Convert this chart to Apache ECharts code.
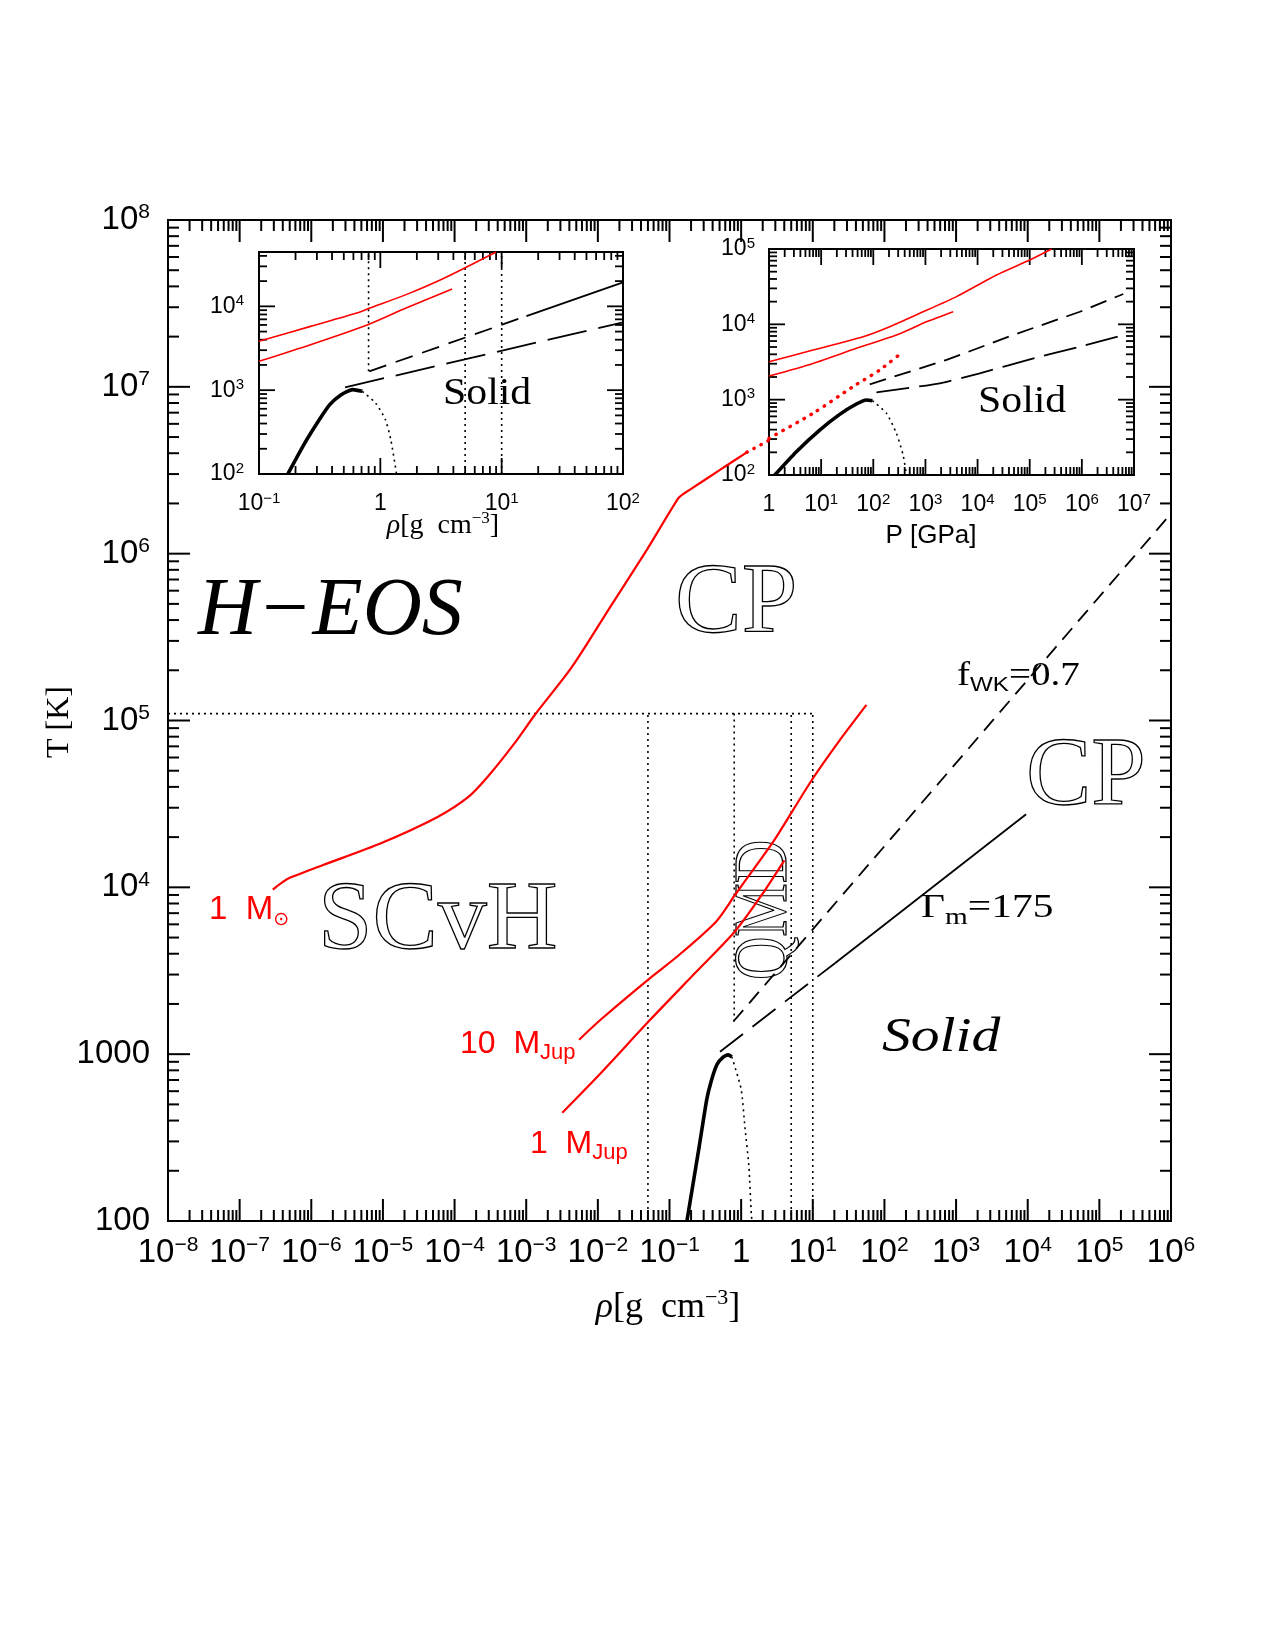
<!DOCTYPE html>
<html>
<head>
<meta charset="utf-8">
<script src="https://cdn.jsdelivr.net/npm/echarts@6/dist/echarts.min.js"></script>
<style>
  html, body { margin: 0; padding: 0; background: #fff; }
  #chart { width: 1275px; height: 1650px; }
</style>
</head>
<body>
<div id="chart"></div>
<script>
// ---------- main panel: T vs rho ----------
const sunRho = [2.9e-7, 3.8e-7, 4.8e-7, 1.46e-6, 9.2e-6, 5.8e-5, 1.56e-4, 2.88e-4, 6.8e-4, 1.34e-3, 4.3e-3, 1.47e-2, 4.8e-2, 0.133, 0.16, 0.193, 0.507, 1.2];
const sunT   = [9.7e3, 1.06e4, 1.13e4, 1.36e4, 1.83e4, 2.64e4, 3.48e4, 4.58e4, 7.26e4, 1.09e5, 2.08e5, 4.75e5, 1.05e6, 2.15e6, 2.3e6, 2.42e6, 3.18e6, 4.05e6];
const sunDotRho = [1.2, 2.53];
const sunDotT   = [4.05e6, 4.82e6];

const jup10Rho = [5.47e-3, 1.13e-2, 5.25e-2, 0.132, 0.45, 0.83, 1.54, 2.84, 9.7, 22.9, 56.1];
const jup10T   = [1.22e3, 1.63e3, 2.84e3, 3.89e3, 6.25e3, 9.06e3, 1.31e4, 1.89e4, 4.4e4, 7.45e4, 1.24e5];
const jup1Rho  = [3.19e-3, 1.13e-2, 5.25e-2, 0.244, 0.83, 1.96, 4.01];
const jup1T    = [446, 780, 1.59e3, 3.16e3, 5.48e3, 9.06e3, 1.45e4];

const meltRho    = [0.175, 0.26, 0.33, 0.38, 0.46, 0.56, 0.66, 0.74];
const meltT      = [100, 280, 530, 684, 867, 960, 990, 965];
const meltDotRho = [0.74, 1.0, 1.13, 1.28, 1.39, 1.42];
const meltDotT   = [965, 617, 364, 215, 108, 100];

const fwkRho = [0.78, 1e6];
const fwkT   = [1570, 1.74e6];
const gamDashRho = [0.507, 20.4];
const gamDashT   = [1035, 3510];
const gamRho = [20.4, 9.5e3];
const gamT   = [3510, 2.74e4];

const boundRho  = [0.05, 0.8, 5, 10];
const boundTlow = [100, 1570, 100, 100];
const boundTtop = 1.1e5;
const hLineRho = [1e-8, 10];

// ---------- inset 1: T vs rho ----------
const in1RedARho = [0.1, 0.266, 0.637, 0.82, 1.63, 3.38, 9.0];
const in1RedAT   = [3.83e3, 5.77e3, 8.32e3, 9.55e3, 1.38e4, 2.18e4, 4.45e4];
const in1RedBRho = [0.1, 0.266, 0.79, 1.63, 3.91];
const in1RedBT   = [2.21e3, 3.49e3, 6.04e3, 9.55e3, 1.61e4];
const in1MeltRho = [0.173, 0.176, 0.23, 0.308, 0.383, 0.476, 0.592, 0.71];
const in1MeltT   = [100, 105, 214, 425, 671, 883, 1014, 968];
const in1MeltDotRho = [0.71, 0.914, 1.1, 1.22, 1.36];
const in1MeltDotT   = [968, 703, 445, 257, 100];
const in1FwkDashRho = [0.81, 16];
const in1FwkDashT   = [1680, 7.65e3];
const in1FwkRho = [16, 100];
const in1FwkT   = [7.65e3, 1.93e4];
const in1GamRho = [0.512, 100];
const in1GamT   = [1081, 6.44e3];
const in1BoundRho  = [0.8, 5, 10];
const in1BoundTlow = [1680, 100, 100];
const in1Tmax = 44500;

// ---------- inset 2: T vs P ----------
const in2RedAP = [1, 7.0, 63.7, 207, 780, 3.94e3, 2.31e4, 1e5, 2.63e5];
const in2RedAT = [3.19e3, 4.56e3, 6.85e3, 9.31e3, 1.4e4, 2.33e4, 4.52e4, 7.14e4, 1e5];
const in2RedBP = [1, 7.0, 47.4, 278, 1.05e3, 3.4e3];
const in2RedBT = [2.06e3, 3.03e3, 4.8e3, 7.21e3, 1.08e4, 1.47e4];
const in2RedDotP = [1, 7.0, 40.9, 133, 373];
const in2RedDotT = [307, 659, 1.49e3, 2.48e3, 4.34e3];
const in2MeltP = [1.29, 3.35, 9.38, 22.7, 47.4, 73.8, 96.2];
const in2MeltT = [100, 204, 395, 638, 875, 991, 971];
const in2MeltDotP = [96.2, 179, 278, 373, 433];
const in2MeltDotT = [971, 659, 357, 184, 100];
const in2FwkP = [85.5, 2.54e3, 4.82e4, 9.18e5, 6.24e6];
const in2FwkT = [1.6e3, 3.37e3, 7.21e3, 1.47e4, 2.53e4];
const in2GamP = [115, 1.89e3, 1.1e4, 1.01e5, 9.18e5, 6.24e6];
const in2GamT = [1.25e3, 1.65e3, 2.24e3, 3.43e3, 5.06e3, 7.21e3];

// ---------- tick labels ----------
const mainXLabels = ['10{s|−8}', '10{s|−7}', '10{s|−6}', '10{s|−5}', '10{s|−4}', '10{s|−3}', '10{s|−2}', '10{s|−1}', '1', '10{s|1}', '10{s|2}', '10{s|3}', '10{s|4}', '10{s|5}', '10{s|6}'];
const mainYLabels = ['100', '1000', '10{s|4}', '10{s|5}', '10{s|6}', '10{s|7}', '10{s|8}'];
const in1XLabels = ['10{s|−1}', '1', '10{s|1}', '10{s|2}'];
const in1YLabels = ['10{s|2}', '10{s|3}', '10{s|4}'];
const in2XLabels = ['1', '10{s|1}', '10{s|2}', '10{s|3}', '10{s|4}', '10{s|5}', '10{s|6}', '10{s|7}'];
const in2YLabels = ['10{s|2}', '10{s|3}', '10{s|4}', '10{s|5}'];

const SERIF = '"Liberation Serif", "DejaVu Serif", serif';
const SANS = '"Liberation Sans", "DejaVu Sans", sans-serif';
const RED = '#ff0000';
const BIG_FS = 33, BIG_LH = 36, BIG_SUP = 21, BIG_SUP_LH = 22;

function pairs(xs, ys) { return xs.map((x, i) => [x, ys[i]]); }

function line(xs, ys, g, color, width, type, cap, smooth) {
  return {
    type: 'line', xAxisIndex: g, yAxisIndex: g, data: pairs(xs, ys),
    showSymbol: false, symbol: 'none', silent: true, smooth: smooth || false,
    lineStyle: { color: color, width: width, type: type || 'solid', cap: cap || 'butt' }
  };
}

function labelFmt(labels, minExp) {
  return function (v) {
    const e = Math.log10(v);
    const r = Math.round(e);
    if (Math.abs(e - r) > 1e-6) return '';
    return labels[r - minExp] || '';
  };
}

function logTicks(min, max) {
  const out = [];
  for (let e = Math.floor(Math.log10(min)); e <= Math.ceil(Math.log10(max)); e++) {
    for (let m = 1; m <= 9; m++) {
      const v = m * Math.pow(10, e);
      if (v >= min * 0.999 && v <= max * 1.001) out.push([v, m === 1 ? 1 : 0]);
    }
  }
  return out;
}

function tickSeries(g, xmin, xmax, ymin, ymax, lenMajor, lenMinor, w) {
  const data = logTicks(xmin, xmax).map(t => [t[0], ymin, 0, t[1]])
    .concat(logTicks(ymin, ymax).map(t => [xmin, t[0], 1, t[1]]));
  return {
    type: 'custom', xAxisIndex: g, yAxisIndex: g, silent: true, clip: false,
    encode: { x: 0, y: 1 }, data: data,
    renderItem: function (params, api) {
      const cs = params.coordSys;
      const len = api.value(3) === 1 ? lenMajor : lenMinor;
      const style = { stroke: '#000', lineWidth: w };
      const p = api.coord([api.value(0), api.value(1)]);
      if (api.value(2) === 0) {
        return { type: 'group', children: [
          { type: 'line', shape: { x1: p[0], y1: cs.y + cs.height, x2: p[0], y2: cs.y + cs.height - len }, style: style },
          { type: 'line', shape: { x1: p[0], y1: cs.y, x2: p[0], y2: cs.y + len }, style: style }
        ] };
      }
      return { type: 'group', children: [
        { type: 'line', shape: { x1: cs.x, y1: p[1], x2: cs.x + len, y2: p[1] }, style: style },
        { type: 'line', shape: { x1: cs.x + cs.width, y1: p[1], x2: cs.x + cs.width - len, y2: p[1] }, style: style }
      ] };
    }
  };
}

// main x tick labels drawn at each decade through the axis scale
function xLabelSeries(labels, minExp, ymin, margin) {
  return {
    type: 'custom', xAxisIndex: 0, yAxisIndex: 0, silent: true, clip: false,
    encode: { x: 0, y: 1 },
    data: labels.map((l, i) => [Math.pow(10, i + minExp), ymin, i]),
    renderItem: function (params, api) {
      const cs = params.coordSys;
      const p = api.coord([api.value(0), api.value(1)]);
      return {
        type: 'text', x: p[0], y: cs.y + cs.height + margin,
        style: {
          text: labels[api.value(2)], fill: '#000',
          fontFamily: SANS, fontSize: BIG_FS, lineHeight: BIG_LH,
          align: 'center', textAlign: 'center', verticalAlign: 'top', textVerticalAlign: 'top',
          rich: { s: { fontFamily: SANS, fontSize: BIG_SUP, lineHeight: BIG_SUP_LH, verticalAlign: 'top', fill: '#000' } }
        }
      };
    }
  };
}

function logAxis(g, min, max, split, labels, minExp, big, margin, hideLabels) {
  return {
    type: 'log', logBase: 10, gridIndex: g, min: min, max: max, splitNumber: split,
    axisLine: { show: false }, axisTick: { show: false }, splitLine: { show: false },
    axisLabel: {
      show: !hideLabels,
      margin: margin, color: '#000', fontFamily: SANS, fontSize: big ? BIG_FS : 23, lineHeight: big ? BIG_LH : 26,
      formatter: labelFmt(labels, minExp),
      rich: { s: { fontFamily: SANS, fontSize: big ? BIG_SUP : 15, lineHeight: big ? BIG_SUP_LH : 16, verticalAlign: 'top', color: '#000' } }
    }
  };
}

const series = [];
// dotted boundaries
boundRho.forEach((r, i) => series.push(line([r, r], [boundTlow[i], boundTtop], 0, '#000', 1.6, [2, 4])));
series.push(line(hLineRho, [boundTtop, boundTtop], 0, '#000', 1.6, [2, 4]));
// main curves
series.push(line(sunRho, sunT, 0, RED, 2.2, null, null, 0.25));
series.push(line(sunDotRho, sunDotT, 0, RED, 3.4, [0.5, 7.5], 'round'));
series.push(line(jup10Rho, jup10T, 0, RED, 2.2, null, null, 0.25));
series.push(line(jup1Rho, jup1T, 0, RED, 2.2, null, null, 0.25));
series.push(line(meltRho, meltT, 0, '#000', 3.6, null, null, 0.2));
series.push(line(meltDotRho, meltDotT, 0, '#000', 1.6, [2, 4], null, 0.2));
series.push(line(fwkRho, fwkT, 0, '#000', 1.8, [15, 9]));
series.push(line(gamDashRho, gamDashT, 0, '#000', 1.8, [29, 12]));
series.push(line(gamRho, gamT, 0, '#000', 1.8));
// inset 1
in1BoundRho.forEach((r, i) => series.push(line([r, r], [in1BoundTlow[i], in1Tmax], 1, '#000', 1.6, [2, 4])));
series.push(line(in1RedARho, in1RedAT, 1, RED, 1.6, null, null, 0.25));
series.push(line(in1RedBRho, in1RedBT, 1, RED, 1.6, null, null, 0.25));
series.push(line(in1MeltRho, in1MeltT, 1, '#000', 3.6, null, null, 0.2));
series.push(line(in1MeltDotRho, in1MeltDotT, 1, '#000', 1.6, [2, 4], null, 0.2));
series.push(line(in1FwkDashRho, in1FwkDashT, 1, '#000', 1.8, [18, 10]));
series.push(line(in1FwkRho, in1FwkT, 1, '#000', 1.8));
series.push(line(in1GamRho, in1GamT, 1, '#000', 1.8, [40, 12]));
// inset 2
series.push(line(in2RedAP, in2RedAT, 2, RED, 1.6, null, null, 0.25));
series.push(line(in2RedBP, in2RedBT, 2, RED, 1.6, null, null, 0.25));
series.push(line(in2RedDotP, in2RedDotT, 2, RED, 3.4, [0.5, 7.5], 'round', 0.25));
series.push(line(in2MeltP, in2MeltT, 2, '#000', 3.6, null, null, 0.2));
series.push(line(in2MeltDotP, in2MeltDotT, 2, '#000', 1.6, [2, 4], null, 0.2));
series.push(line(in2FwkP, in2FwkT, 2, '#000', 1.8, [17, 9]));
series.push(line(in2GamP, in2GamT, 2, '#000', 1.8, [33, 10], null, 0.2));
// ticks and main x labels
series.push(tickSeries(0, 1e-8, 1e6, 100, 1e8, 22, 11, 2));
series.push(tickSeries(1, 0.1, 100, 100, in1Tmax, 16, 8, 1.8));
series.push(tickSeries(2, 1, 1e7, 100, 1e5, 16, 8, 1.8));
series.push(xLabelSeries(mainXLabels, -8, 100, 14));

function txt(x, y, text, font, opts) {
  const o = opts || {};
  return {
    type: 'text', x: x, y: y, rotation: o.rot || 0, scaleX: o.sx || 1, z: 1,
    style: {
      text: text, font: font, fill: o.fill || '#000',
      stroke: o.stroke || null, lineWidth: o.lw || 0,
      textAlign: o.align || 'left', align: o.align || 'left',
      textVerticalAlign: 'middle', verticalAlign: 'middle', rich: o.rich
    }
  };
}
const OUT = { fill: 'rgba(0,0,0,0)', stroke: '#000', lw: 1.3 };
function subRich(baseFont, baseSize, baseLH, subFont, subSize, subLH, color) {
  return {
    b: { fontFamily: baseFont, fontSize: baseSize, lineHeight: baseLH, fill: color },
    s: { fontFamily: subFont, fontSize: subSize, lineHeight: subLH, verticalAlign: 'bottom', fill: color },
    u: { fontFamily: baseFont, fontSize: subSize, lineHeight: subLH, verticalAlign: 'top', fill: color },
    g: { fontFamily: baseFont, fontSize: baseSize, lineHeight: baseLH, fontStyle: 'italic', fill: color }
  };
}

const graphics = [
  txt(198, 612, 'H−EOS', 'italic 82px ' + SERIF),
  txt(675, 605, 'CP', '100px ' + SERIF, OUT),
  txt(1026, 778, 'CP', '98px ' + SERIF, OUT),
  txt(318, 922, 'SCvH', '98px ' + SERIF, OUT),
  txt(766, 910, 'QMD', '76px ' + SERIF, Object.assign({ rot: Math.PI / 2, sx: 0.79, align: 'center' }, OUT)),
  txt(882, 1038, 'Solid', 'italic 48px ' + SERIF, { sx: 1.2 }),
  txt(443, 394, 'Solid', '38px ' + SERIF, { sx: 1.1 }),
  txt(978, 402, 'Solid', '38px ' + SERIF, { sx: 1.1 }),
  txt(957, 676, '{b|f}{s|WK}{b|=0.7}', '34px ' + SERIF, { sx: 1.15, rich: subRich(SERIF, 34, 40, SANS, 21, 20, '#000') }),
  txt(921, 908, '{b|Γ}{s|m}{b|=175}', '34px ' + SERIF, { sx: 1.22, rich: subRich(SERIF, 34, 44, SERIF, 24, 20, '#000') }),
  txt(209, 910, '{b|1  M}{s|⊙}', '33px ' + SANS, { fill: RED, rich: subRich(SANS, 33, 40, '"DejaVu Sans"', 19, 10, RED) }),
  txt(460, 1044, '{b|10  M}{s|Jup}', '32px ' + SANS, { fill: RED, rich: subRich(SANS, 32, 40, SANS, 22, 18, RED) }),
  txt(530, 1144, '{b|1  M}{s|Jup}', '32px ' + SANS, { fill: RED, rich: subRich(SANS, 32, 40, SANS, 22, 18, RED) }),
  txt(60, 722, 'T [K]', '32px ' + SERIF, { rot: Math.PI / 2, align: 'center' }),
  txt(668, 1308, '{g|ρ}{b|[g  cm}{u|−3}{b|]}', '36px ' + SERIF, { align: 'center', rich: subRich(SERIF, 36, 42, SERIF, 22, 22, '#000') }),
  txt(443, 526, '{g|ρ}{b|[g  cm}{u|−3}{b|]}', '28px ' + SERIF, { align: 'center', rich: subRich(SERIF, 28, 32, SERIF, 17, 16, '#000') }),
  txt(931, 536, 'P [GPa]', '26px ' + SANS, { align: 'center' })
];

const chart = echarts.init(document.getElementById('chart'), null, { renderer: 'canvas' });
chart.setOption({
  backgroundColor: '#fff',
  animation: false,
  grid: [
    { left: 168, top: 220, width: 1003, height: 1001, show: true, borderColor: '#000', borderWidth: 2, backgroundColor: 'transparent' },
    { left: 259, top: 252, width: 364, height: 222, show: true, borderColor: '#000', borderWidth: 2, backgroundColor: 'transparent' },
    { left: 769, top: 249, width: 365, height: 226, show: true, borderColor: '#000', borderWidth: 2, backgroundColor: 'transparent' }
  ],
  xAxis: [
    logAxis(0, 1e-8, 1e6, 14, mainXLabels, -8, true, 14, true),
    logAxis(1, 0.1, 100, 3, in1XLabels, -1, false, 17),
    logAxis(2, 1, 1e7, 7, in2XLabels, 0, false, 17)
  ],
  yAxis: [
    logAxis(0, 100, 1e8, 6, mainYLabels, 2, true, 18),
    logAxis(1, 100, in1Tmax, 3, in1YLabels, 2, false, 15),
    logAxis(2, 100, 1e5, 3, in2YLabels, 2, false, 14)
  ],
  graphic: graphics,
  series: series
});
</script>
</body>
</html>
